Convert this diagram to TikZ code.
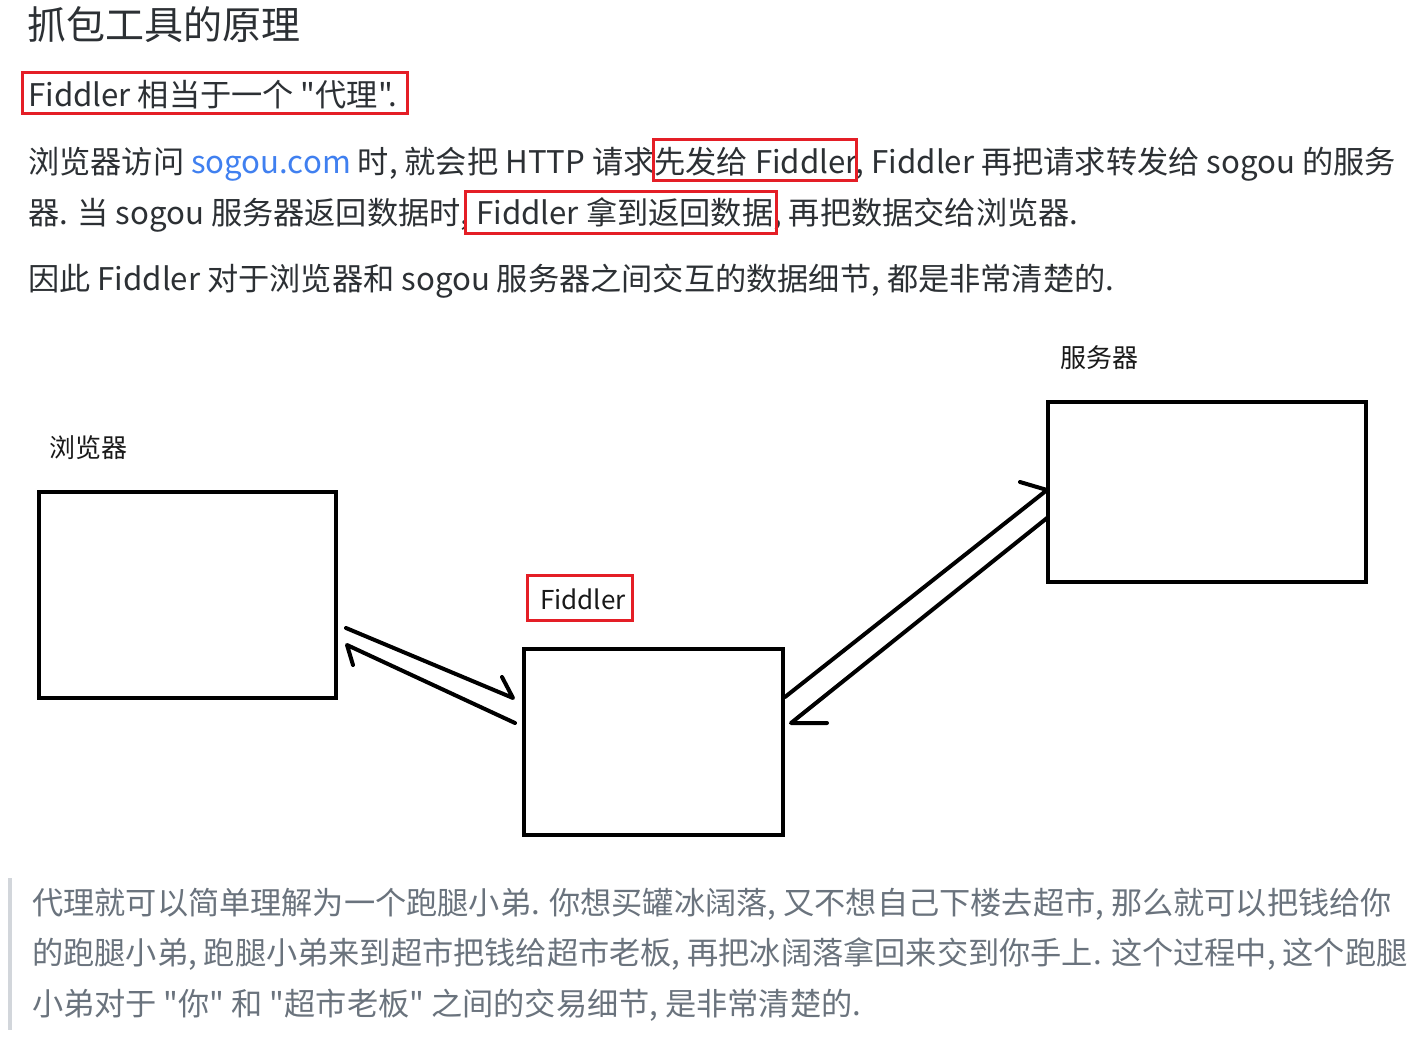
\documentclass[tikz,border=0pt]{standalone}
\usepackage{fontspec}
\setmainfont{Noto Sans CJK SC}[Ligatures=TeXOff]
\newcommand{\dq}{\symbol{34}}
\definecolor{txt}{RGB}{44,48,52}
\definecolor{quote}{RGB}{106,115,125}
\definecolor{bar}{RGB}{210,214,219}
\definecolor{link}{RGB}{64,128,240}
\definecolor{mark}{RGB}{228,30,38}
\tikzset{
  body/.style={anchor=base west,inner sep=0pt,text=txt,font=\fontsize{31.2}{37}\selectfont},
  qtext/.style={anchor=base west,inner sep=0pt,text=quote,font=\fontsize{31.2}{37}\selectfont},
  lbl/.style={anchor=base west,inner sep=0pt,text=black!90,font=\fontsize{26}{30}\selectfont},
  sketchbox/.style={draw=black,line width=3.6pt,inner sep=0pt,line join=miter},
  sketch/.style={draw=black,line width=4pt,line cap=round,line join=round},
  redmark/.style={draw=mark,line width=3pt}
}
\begin{document}
\begin{tikzpicture}[x=1pt,y=-1pt]
\useasboundingbox[fill=white] (0,0) rectangle (1416,1049);
% header text
\node[body,font=\fontsize{39}{45}\selectfont] (title) at (27,40) {抓包工具的原理};
\node[body] (proxy) at (28,106) {Fiddler 相当于一个 \dq 代理\dq.};
\draw[redmark] (22,73) rectangle (407,113);
\node[body] (p1) at (28,173) {浏览器访问 \textcolor{link}{sogou.com} 时, 就会把 HTTP 请求先发给 Fiddler, Fiddler 再把请求转发给 sogou 的服务};
\node[body] (p2) at (28,224) {器. 当 sogou 服务器返回数据时, Fiddler 拿到返回数据, 再把数据交给浏览器.};
\draw[redmark] (653,139) rectangle (856,180);
\draw[redmark] (465,191) rectangle (776,233);
\node[body] (p3) at (28,290) {因此 Fiddler 对于浏览器和 sogou 服务器之间交互的数据细节, 都是非常清楚的.};
% diagram
\node[lbl] (lbrowser) at (49,457) {浏览器};
\node[lbl] (lserver) at (1060,367) {服务器};
\node[lbl] (lfiddler) at (540,609) {Fiddler};
\draw[redmark] (527,575) rectangle (632,620);
\node[sketchbox,minimum width=297pt,minimum height=206pt] (browser) at (187.5,595) {};
\node[sketchbox,minimum width=259pt,minimum height=186pt] (fiddler) at (653.5,742) {};
\node[sketchbox,minimum width=318pt,minimum height=180pt] (server) at (1207,492) {};
% arrows browser <-> fiddler
\coordinate (a1s) at (346,628);
\coordinate (a1e) at (513,698);
\coordinate (a1b) at (502,677);
\coordinate (a2s) at (515,723);
\coordinate (a2e) at (347,645);
\coordinate (a2b) at (353,665);
\draw[sketch] (a1s) -- (a1e) -- (a1b);
\draw[sketch] (a2s) -- (a2e) -- (a2b);
% arrows fiddler <-> server
\coordinate (a3s) at (785,697);
\coordinate (a3e) at (1047,490);
\coordinate (a3b) at (1020,482);
\coordinate (a4s) at (1047,518);
\coordinate (a4e) at (791,723);
\coordinate (a4b) at (827,723);
\draw[sketch] (a3s) -- (a3e) -- (a3b);
\draw[sketch] (a4s) -- (a4e) -- (a4b);
% quote
\fill[bar] (8,878) rectangle (12,1030);
\node[qtext] (q1) at (32,914) {代理就可以简单理解为一个跑腿小弟. 你想买罐冰阔落, 又不想自己下楼去超市, 那么就可以把钱给你};
\node[qtext] (q2) at (32,964) {的跑腿小弟, 跑腿小弟来到超市把钱给超市老板, 再把冰阔落拿回来交到你手上. 这个过程中, 这个跑腿};
\node[qtext] (q3) at (32,1015) {小弟对于 \dq 你\dq{} 和 \dq 超市老板\dq{} 之间的交易细节, 是非常清楚的.};
\end{tikzpicture}
\end{document}
